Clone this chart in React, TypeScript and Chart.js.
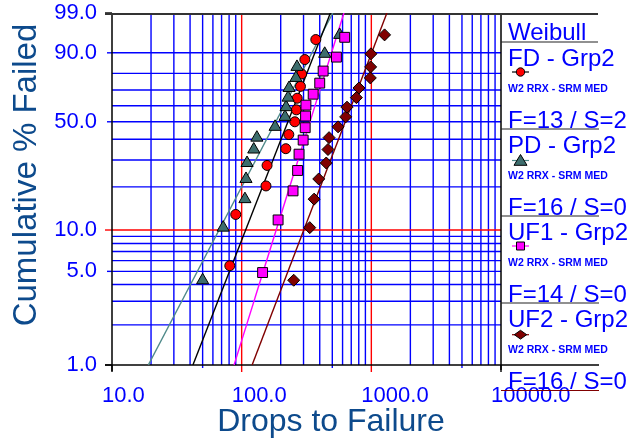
import React, { useEffect, useRef } from "react";
import { Chart, registerables } from "chart.js";

Chart.register(...registerables);

// ---------------- data ----------------
const seriesNames = ["FD - Grp2", "PD - Grp2", "UF1 - Grp2", "UF2 - Grp2"];
const seriesCounts = ["F=13 / S=2", "F=16 / S=0", "F=14 / S=0", "F=16 / S=0"];
const seriesNote = "W2 RRX - SRM MED";
const legendTitle = "Weibull";

const fdDrops = [81, 90, 154, 157, 219, 231, 257, 264, 268, 284, 290, 307, 373];
const fdPct = [5.5, 12.9, 20.3, 27.7, 35.2, 42.6, 50.0, 57.4, 64.8, 72.3, 79.7, 87.1, 94.5];

const pdDrops = [50, 72, 106, 108, 110, 124, 131, 181, 216, 220, 228, 232, 262, 267, 437, 570];
const pdPct = [4.3, 10.4, 16.5, 22.6, 28.7, 34.8, 40.9, 47.0, 53.0, 59.1, 65.2, 71.3, 77.4, 83.5, 89.6, 95.7];

const uf1Drops = [145, 191, 249, 270, 277, 298, 309, 311, 313, 356, 400, 425, 538, 623];
const uf1Pct = [4.9, 11.8, 18.8, 25.7, 32.6, 39.6, 46.5, 53.5, 60.4, 67.4, 74.3, 81.3, 88.2, 95.1];

const uf2Drops = [252, 335, 362, 393, 449, 463, 472, 554, 634, 649, 767, 803, 982, 988, 993, 1265];
const uf2Pct = [4.3, 10.4, 16.5, 22.6, 28.7, 34.8, 40.9, 47.0, 53.0, 59.1, 65.2, 71.3, 77.4, 83.5, 89.6, 95.7];

// Weibull fit parameters (shape beta, scale eta) for FD, PD, UF1, UF2
const fitBeta = [2.51, 1.87, 3.14, 2.56];
const fitEta = [263, 223, 378, 726];

const yGridPct = [1, 2, 3, 4, 5, 6, 7, 8, 9, 10, 20, 30, 40, 50, 60, 70, 80, 90, 99];
const yLabelPct = [99, 90, 50, 10, 5, 1];
const xDecadeStarts = [10, 100, 1000];
const xSteps = [1, 2, 3, 4, 5, 6, 7, 8, 9];
const xMin = 10;
const xMax = 10000;
const xLabelValues = [10, 100, 1000, 10000];
const xTitle = "Drops to Failure";
const yTitle = "Cumulative % Failed";

// ---------------- styles ----------------
const BLUE = "#0000ff";
const RED = "#ff0000";
const TITLE_BLUE = "#0d4a8c";
const FONT = "'Liberation Sans', Arial, sans-serif";

const markerFill = ["#ff0000", "#3d6d6d", "#ff00ff", "#800000"];
const lineColors = ["#000000", "#4f8a8a", "#ff00ff", "#800000"];
const markerKinds = ["circle", "triangle", "rect", "rectRot"];
const markerRadius = [5, 7, 7, 6];

const weib = (p: number) => Math.log(-Math.log(1 - p / 100));

const toPoints = (xs: number[], ps: number[]) => xs.map((x, i) => ({ x, y: weib(ps[i]) }));

const fitLine = (beta: number, eta: number) => {
  const pLo = yGridPct[0];
  const pHi = yGridPct[yGridPct.length - 1];
  return [pLo, pHi].map((p) => ({ x: eta * Math.exp(weib(p) / beta), y: weib(p) }));
};

const xTickValues: number[] = [];
xDecadeStarts.forEach((d) => xSteps.forEach((s) => xTickValues.push(d * s)));
xTickValues.push(xMax);

function drawLegendMarker(ctx: CanvasRenderingContext2D, kind: string, cx: number, cy: number, fill: string) {
  ctx.beginPath();
  if (kind === "circle") ctx.arc(cx, cy, 4.2, 0, Math.PI * 2);
  else if (kind === "triangle") {
    ctx.moveTo(cx, cy - 6);
    ctx.lineTo(cx + 6.5, cy + 4.8);
    ctx.lineTo(cx - 6.5, cy + 4.8);
    ctx.closePath();
  } else if (kind === "rect") ctx.rect(cx - 4, cy - 4, 8, 8);
  else {
    ctx.moveTo(cx, cy - 4.4);
    ctx.lineTo(cx + 6.2, cy);
    ctx.lineTo(cx, cy + 4.4);
    ctx.lineTo(cx - 6.2, cy);
    ctx.closePath();
  }
  ctx.fillStyle = fill;
  ctx.fill();
  ctx.strokeStyle = "#000";
  ctx.lineWidth = 1;
  ctx.stroke();
}

const GRID_W = 1.4;

const decorPlugin = {
  id: "weibullDecor",
  beforeDatasetsDraw(chart: any) {
    const { ctx, chartArea: ca, scales } = chart;
    const xs = scales.x;
    const ys = scales.y;
    ctx.save();
    ctx.lineWidth = GRID_W;
    // vertical grid
    xTickValues.forEach((v) => {
      if (v === xMin || v === xMax) return;
      const px = xs.getPixelForValue(v);
      ctx.beginPath();
      ctx.strokeStyle = v === 100 || v === 1000 ? RED : BLUE;
      ctx.moveTo(px, ca.top);
      ctx.lineTo(px, ca.bottom);
      ctx.stroke();
    });
    // horizontal grid
    yGridPct.forEach((p) => {
      if (p === yGridPct[0] || p === yGridPct[yGridPct.length - 1]) return;
      const py = ys.getPixelForValue(weib(p));
      ctx.beginPath();
      ctx.strokeStyle = p === 10 ? RED : BLUE;
      ctx.moveTo(ca.left, py);
      ctx.lineTo(ca.right, py);
      ctx.stroke();
    });
    // x tick marks below axis
    xTickValues.forEach((v) => {
      const px = xs.getPixelForValue(v);
      let len = 0;
      let col = BLUE;
      if (v === 10 || v === 10000) { len = 7; col = "#000"; }
      else if (v === 100 || v === 1000) { len = 7; col = RED; }
      else if (v === 50 || v === 500 || v === 5000) { len = 3; col = BLUE; }
      if (!len) return;
      ctx.beginPath();
      ctx.strokeStyle = col;
      ctx.moveTo(px, ca.bottom);
      ctx.lineTo(px, ca.bottom + len);
      ctx.stroke();
    });
    // y tick marks left of axis
    yLabelPct.forEach((p) => {
      const py = ys.getPixelForValue(weib(p));
      let len = 5;
      let col = BLUE;
      if (p === 10) { len = 7; col = RED; }
      if (p === 99 || p === 1) { len = 7; col = "#000"; }
      ctx.beginPath();
      ctx.strokeStyle = col;
      ctx.moveTo(ca.left - len, py);
      ctx.lineTo(ca.left, py);
      ctx.stroke();
    });
    // frame
    ctx.strokeStyle = "#000";
    ctx.lineWidth = 1.5;
    ctx.beginPath();
    ctx.moveTo(ca.left, ca.top);
    ctx.lineTo(ca.left, ca.bottom + 6);
    ctx.moveTo(ca.right, ca.top);
    ctx.lineTo(ca.right, ca.bottom + 5);
    ctx.stroke();
    ctx.beginPath();
    ctx.moveTo(ca.left - 7, ca.bottom);
    ctx.lineTo(ca.right + 98, ca.bottom);
    ctx.stroke();
    ctx.beginPath();
    ctx.strokeStyle = "#333";
    ctx.lineWidth = 2;
    ctx.moveTo(ca.left - 7, ca.top + 1);
    ctx.lineTo(ca.right + 97, ca.top + 1);
    ctx.stroke();
    ctx.restore();
  },
  afterDraw(chart: any) {
    const { ctx, chartArea: ca } = chart;
    ctx.save();
    // axis titles
    ctx.fillStyle = TITLE_BLUE;
    ctx.font = `32px ${FONT}`;
    ctx.textAlign = "center";
    ctx.textBaseline = "alphabetic";
    ctx.fillText(xTitle, 331, 431);
    ctx.save();
    ctx.translate(36, 175);
    ctx.rotate(-Math.PI / 2);
    ctx.font = `33px ${FONT}`;
    ctx.fillText(yTitle, 0, 0);
    ctx.restore();

    // legend panel
    const lx = ca.right + 7;
    const left = ca.right;
    const right = ca.right + 97;
    ctx.textAlign = "left";
    ctx.fillStyle = BLUE;
    ctx.font = `24px ${FONT}`;
    ctx.fillText(legendTitle, lx, ca.top + 27);
    const firstTop = ca.top + 29;
    const blockH = 87;
    ctx.strokeStyle = "#222";
    ctx.lineWidth = 1.2;
    ctx.beginPath();
    ctx.moveTo(left, firstTop);
    ctx.lineTo(right, firstTop);
    ctx.stroke();
    seriesNames.forEach((name, i) => {
      const top = firstTop + i * blockH;
      ctx.fillStyle = BLUE;
      ctx.font = `24px ${FONT}`;
      ctx.fillText(name, lx, top + 23.5);
      const my = top + (markerKinds[i] === "triangle" ? 31.5 : markerKinds[i] === "rectRot" ? 31.7 : 30);
      ctx.beginPath();
      ctx.strokeStyle = lineColors[i];
      ctx.lineWidth = 1.2;
      ctx.moveTo(lx + 4, my);
      ctx.lineTo(lx + 21, my);
      ctx.stroke();
      drawLegendMarker(ctx, markerKinds[i], lx + 12.5, my, markerFill[i]);
      ctx.fillStyle = BLUE;
      ctx.font = `bold 10.5px ${FONT}`;
      ctx.fillText(seriesNote, lx, top + 49.5);
      ctx.font = `24px ${FONT}`;
      ctx.fillText(seriesCounts[i], lx, top + 85.5);
      const isLast = i === seriesNames.length - 1;
      ctx.beginPath();
      ctx.strokeStyle = isLast ? "#800000" : "#222";
      ctx.lineWidth = 1.2;
      ctx.moveTo(left, top + blockH + (isLast ? 0.5 : 0));
      ctx.lineTo(right + 1, top + blockH + (isLast ? 0.5 : 0));
      ctx.stroke();
    });
    ctx.restore();
  },
};

export default function App() {
  const ref = useRef<HTMLCanvasElement | null>(null);

  useEffect(() => {
    if (!ref.current) return;
    Chart.defaults.font.family = FONT;
    const allDrops = [fdDrops, pdDrops, uf1Drops, uf2Drops];
    const allPct = [fdPct, pdPct, uf1Pct, uf2Pct];

    const markerSets = seriesNames.map((name, i) => ({
      type: "scatter" as const,
      label: name,
      data: toPoints(allDrops[i], allPct[i]),
      pointStyle: markerKinds[i],
      pointRadius: markerRadius[i],
      pointBackgroundColor: markerFill[i],
      pointBorderColor: "#000",
      pointBorderWidth: 1,
      showLine: false,
      order: 4 - i,
    }));
    const lineSets = seriesNames.map((name, i) => ({
      type: "scatter" as const,
      label: name + " fit",
      data: fitLine(fitBeta[i], fitEta[i]),
      showLine: true,
      borderColor: lineColors[i],
      borderWidth: 1.4,
      pointRadius: 0,
      fill: false,
      order: 10 + i,
    }));

    const chart = new Chart(ref.current, {
      type: "scatter",
      data: { datasets: [...markerSets, ...lineSets] as any },
      options: {
        animation: false,
        responsive: false,
        maintainAspectRatio: false,
        devicePixelRatio: 1,
        layout: { padding: { left: 0, top: 13, right: 138, bottom: 0 } },
        plugins: { legend: { display: false }, tooltip: { enabled: false }, title: { display: false } },
        scales: {
          x: {
            type: "logarithmic",
            min: xMin,
            max: xMax,
            afterBuildTicks: (scale: any) => {
              scale.ticks = xTickValues.map((v) => ({ value: v }));
            },
            afterFit: (scale: any) => {
              scale.height = 76;
              scale.paddingLeft = 0;
              scale.paddingRight = 0;
              scale.paddingTop = 0;
              scale.paddingBottom = 0;
            },
            border: { display: false },
            grid: { display: false, drawTicks: false },
            ticks: {
              autoSkip: false,
              maxRotation: 0,
              minRotation: 0,
              align: "start",
              labelOffset: -10,
              padding: 18,
              color: BLUE,
              font: { size: 22, family: FONT },
              callback: (v: any) => (xLabelValues.includes(Number(v)) ? Number(v).toFixed(1) : ""),
            },
          },
          y: {
            type: "linear",
            min: weib(yGridPct[0]),
            max: weib(yGridPct[yGridPct.length - 1]),
            afterBuildTicks: (scale: any) => {
              scale.ticks = yGridPct.map((p) => ({ value: weib(p) }));
            },
            afterFit: (scale: any) => {
              scale.width = 112;
              scale.paddingLeft = 0;
              scale.paddingRight = 0;
              scale.paddingTop = 0;
              scale.paddingBottom = 0;
            },
            border: { display: false },
            grid: { display: false, drawTicks: false },
            ticks: {
              autoSkip: false,
              padding: 15,
              color: BLUE,
              font: { size: 22, family: FONT, lineHeight: 1 },
              callback: (_v: any, i: number) => {
                const p = yGridPct[i];
                return yLabelPct.includes(p) ? p.toFixed(1) : "";
              },
            },
          },
        },
      } as any,
      plugins: [decorPlugin],
    });
    return () => chart.destroy();
  }, []);

  return (
    <div style={{ position: "fixed", left: 0, top: 0, width: 639, height: 441, background: "#fff" }}>
      <canvas ref={ref} width={639} height={441} style={{ width: 639, height: 441, display: "block" }} />
    </div>
  );
}
